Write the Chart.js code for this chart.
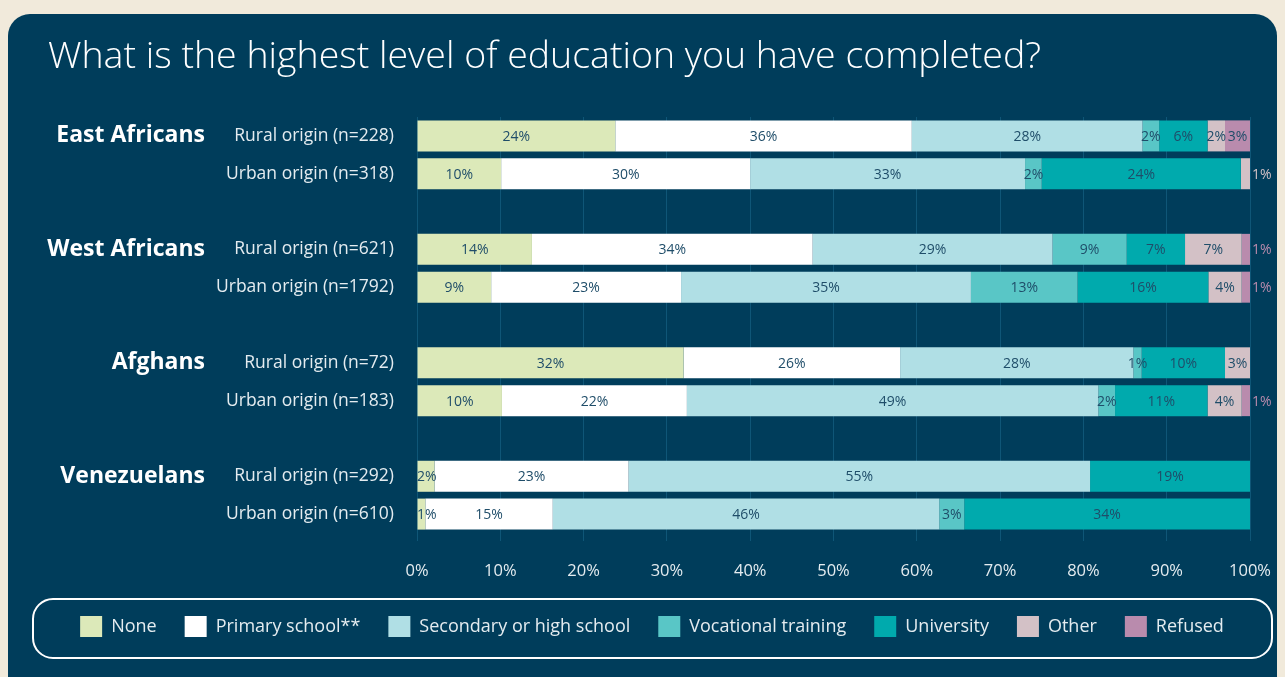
<!DOCTYPE html>
<html>
<head>
<meta charset="utf-8">
<script src="https://cdn.jsdelivr.net/npm/chart.js@4.4.1/dist/chart.umd.min.js"></script>
<style>
  html, body { margin: 0; padding: 0; background: #f1eadb; }
  #card {
    position: absolute; left: 8px; top: 14px; width: 1269px; height: 700px;
    background: #003d5b; border-radius: 22px;
  }
  #wrap { position: absolute; left: 0; top: 0; width: 1285px; height: 677px; }
</style>
</head>
<body>
<div id="card"></div>
<div id="wrap"><canvas id="chart" width="1285" height="677"></canvas></div>
<script>
// survey data, percent of respondents
const groups = ['East Africans', 'West Africans', 'Afghans', 'Venezuelans'];
const rows = [
  'Rural origin (n=228)', 'Urban origin (n=318)',
  'Rural origin (n=621)', 'Urban origin (n=1792)',
  'Rural origin (n=72)', 'Urban origin (n=183)',
  'Rural origin (n=292)', 'Urban origin (n=610)'
];
const none       = [23.8, 10.1, 13.8,  8.9, 32.0, 10.2,  2.1,  1.0];
const primary    = [35.6, 29.9, 33.7, 22.8, 26.0, 22.2, 23.3, 15.3];
const secondary  = [27.7, 33.0, 28.8, 34.8, 28.0, 49.4, 55.4, 46.4];
const vocational = [ 2.0,  2.0,  8.9, 12.8,  1.0,  2.0,  0,    3.0];
const university = [ 5.8, 23.9,  7.0, 15.7, 10.0, 11.1, 19.2, 34.3];
const other      = [ 2.1,  1.1,  6.8,  4.0,  3.0,  4.1,  0,    0  ];
const refused    = [ 3.0,  0,    1.0,  1.0,  0,    1.0,  0,    0  ];
const xTicks = [0, 10, 20, 30, 40, 50, 60, 70, 80, 90, 100];

const TEXT = '#e4ecf0';
const LABEL_DARK = '#1f4d69';
const FONT = '"Open Sans", Lato, sans-serif';

// two rows per group, an empty slot between groups
function spread(arr) {
  const out = [];
  arr.forEach((v, i) => {
    if (i > 0 && i % 2 === 0) out.push(null);
    out.push(v);
  });
  return out;
}
const slotLabels = spread(rows).map(l => l === null ? '' : l);

const series = [
  { label: 'None', data: none, color: '#dce9b9' },
  { label: 'Primary school**', data: primary, color: '#ffffff' },
  { label: 'Secondary or high school', data: secondary, color: '#b0dfe5' },
  { label: 'Vocational training', data: vocational, color: '#59c6c6' },
  { label: 'University', data: university, color: '#00aaad' },
  { label: 'Other', data: other, color: '#d3c1c6' },
  { label: 'Refused', data: refused, color: '#b98bad' }
];

const segmentLabels = {
  id: 'segmentLabels',
  afterDatasetsDraw(chart) {
    const ctx = chart.ctx;
    const area = chart.chartArea;
    ctx.save();
    ctx.font = '14px ' + FONT;
    ctx.textBaseline = 'middle';
    chart.data.datasets.forEach((ds, di) => {
      const meta = chart.getDatasetMeta(di);
      meta.data.forEach((bar, i) => {
        const v = ds.data[i];
        if (!v) return;
        const txt = Math.round(v) + '%';
        const w = ctx.measureText(txt).width;
        // is this the last non-empty segment of the row?
        let last = true;
        for (let k = di + 1; k < chart.data.datasets.length; k++) {
          if (chart.data.datasets[k].data[i]) last = false;
        }
        if (last && v < 1.5) {
          ctx.fillStyle = ds.backgroundColor;
          ctx.textAlign = 'left';
          ctx.fillText(txt, bar.x + 2, bar.y + 1);
        } else {
          let cx = (bar.x + bar.base) / 2;
          cx = Math.max(cx, area.left + w / 2);
          ctx.fillStyle = LABEL_DARK;
          ctx.textAlign = 'center';
          ctx.fillText(txt, cx, bar.y + 1);
        }
      });
    });
    ctx.restore();
  }
};

const groupLabels = {
  id: 'groupLabels',
  afterDraw(chart) {
    const ctx = chart.ctx;
    const y = chart.scales.y;
    ctx.save();
    ctx.font = 'bold 23px ' + FONT;
    ctx.fillStyle = '#ffffff';
    ctx.textAlign = 'right';
    ctx.textBaseline = 'middle';
    groups.forEach((g, gi) => {
      ctx.fillText(g, 205, y.getPixelForValue(gi * 3));
    });
    ctx.restore();
  }
};

const legendFrame = {
  id: 'legendFrame',
  afterDraw(chart) {
    const lg = chart.legend;
    const ctx = chart.ctx;
    ctx.save();
    ctx.strokeStyle = '#ffffff';
    ctx.lineWidth = 2;
    ctx.beginPath();
    ctx.roundRect(33, lg.top + 11, 1239, 59, 20);
    ctx.stroke();
    ctx.restore();
  }
};

new Chart(document.getElementById('chart'), {
  type: 'bar',
  data: {
    labels: slotLabels,
    datasets: series.map(s => ({
      label: s.label,
      data: spread(s.data),
      backgroundColor: s.color,
      borderWidth: 0,
      categoryPercentage: 1,
      barPercentage: 0.82
    }))
  },
  options: {
    indexAxis: 'y',
    responsive: false,
    animation: false,
    layout: { padding: { left: 48, right: 29, top: 0, bottom: 30 } },
    scales: {
      x: {
        stacked: true,
        min: 0,
        max: 100,
        afterBuildTicks: s => { s.ticks = xTicks.map(v => ({ value: v })); },
        afterFit: s => { s.height = 55; s.paddingRight = 35; },
        grid: { color: '#0f5677', lineWidth: 1, drawTicks: true, tickLength: 8, tickColor: '#0f5677' },
        border: { display: false },
        ticks: {
          color: TEXT,
          padding: 20,
          font: { family: FONT, size: 16.5 },
          callback: v => v + '%'
        }
      },
      y: {
        stacked: true,
        afterFit: s => { s.width = 369; },
        grid: { display: false },
        border: { display: false },
        ticks: {
          autoSkip: false,
          color: TEXT,
          padding: 15,
          font: { family: FONT, size: 17.5 }
        }
      }
    },
    plugins: {
      title: {
        display: true,
        text: 'What is the highest level of education you have completed?',
        align: 'start',
        color: '#ffffff',
        font: { family: FONT, size: 37.5, weight: '300' },
        padding: { top: 35, bottom: 37 }
      },
      legend: {
        position: 'bottom',
        labels: {
          boxWidth: 22,
          boxHeight: 21,
          padding: 28,
          color: TEXT,
          font: { family: FONT, size: 18 }
        }
      },
      tooltip: { enabled: false }
    }
  },
  plugins: [segmentLabels, groupLabels, legendFrame]
});
</script>
</body>
</html>
